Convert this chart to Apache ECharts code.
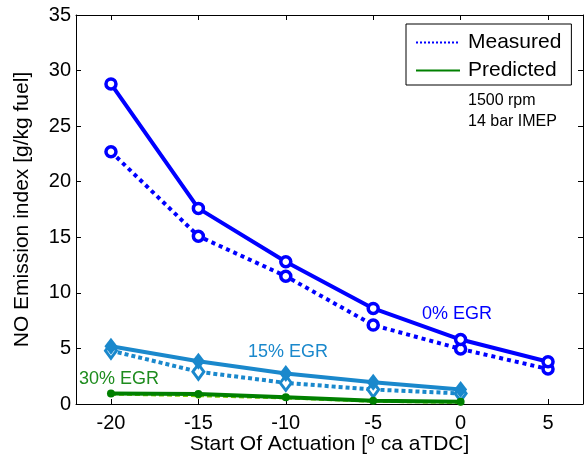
<!DOCTYPE html>
<html>
<head>
<meta charset="utf-8">
<script src="https://cdn.jsdelivr.net/npm/echarts@6/dist/echarts.min.js"></script>
<style>html,body{margin:0;padding:0;background:#fff}#c{width:586px;height:466px}</style>
</head>
<body>
<div id="c"></div>
<script>
var soa = [-20, -15, -10, -5, 0, 5];
var soa15 = [-20, -15, -10, -5, 0];
var xTicks = [-20, -15, -10, -5, 0, 5];
var egr0Measured = [22.7, 15.1, 11.5, 7.1, 4.95, 3.15];
var egr0Predicted = [28.8, 17.6, 12.8, 8.6, 5.8, 3.8];
var egr15Measured = [4.8, 2.9, 1.9, 1.3, 0.95];
var egr15Predicted = [5.2, 3.85, 2.75, 1.95, 1.3];
var egr30Measured = [0.85, 0.7, 0.5, 0.2, 0.1];
var egr30Predicted = [0.95, 0.9, 0.6, 0.3, 0.2];

function pairs(xs, ys) { return xs.map(function (x, i) { return [x, ys[i]]; }); }

var BLUE = '#0000ff', LBLUE = '#1a88cc', GREEN = '#008000', LGREEN = '#7ccc00';
var FONT = 'Liberation Sans';

var chart = echarts.init(document.getElementById('c'), null, {renderer: 'canvas'});
var axisLineStyle = {color: '#000', width: 1};
var option = {
  animation: false,
  backgroundColor: '#fff',
  textStyle: {fontFamily: FONT},
  grid: {left: 76, right: 3, top: 15, bottom: 62, containLabel: false},
  legend: {
    left: 406, top: 24, orient: 'vertical',
    backgroundColor: '#fff', borderColor: '#000', borderWidth: 1,
    padding: [8, 10, 4, 9], itemGap: 7, itemWidth: 44, itemHeight: 14,
    textStyle: {fontFamily: FONT, fontSize: 21, color: '#000', padding: [0, 0, 0, 3]},
    itemStyle: {opacity: 0, borderWidth: 0},
    data: ['Measured', 'Predicted']
  },
  xAxis: [{
    type: 'value', min: -22, max: 7, position: 'bottom',
    name: 'Start Of Actuation [{sup|o} ca aTDC]', nameLocation: 'middle', nameGap: 29,
    nameMoveOverlap: false,
    nameTextStyle: {fontFamily: FONT, fontSize: 21, color: '#000',
      rich: {sup: {fontFamily: FONT, fontSize: 14, color: '#000', verticalAlign: 'top', padding: [0, 0, 8, 0]}}},
    axisLine: {show: true, lineStyle: axisLineStyle, onZero: false},
    axisTick: {show: true, inside: true, length: 5, lineStyle: axisLineStyle, customValues: xTicks},
    axisLabel: {fontFamily: FONT, fontSize: 20, color: '#000', margin: 9, customValues: xTicks},
    splitLine: {show: false}
  }, {
    type: 'value', min: -22, max: 7, position: 'top',
    axisLine: {show: true, lineStyle: axisLineStyle, onZero: false},
    axisTick: {show: true, inside: true, length: 5, lineStyle: axisLineStyle, customValues: xTicks},
    axisLabel: {show: false, customValues: xTicks},
    splitLine: {show: false}
  }],
  yAxis: [{
    type: 'value', min: 0, max: 35, interval: 5, position: 'left',
    name: 'NO Emission index [g/kg fuel]', nameLocation: 'middle', nameGap: 43,
    nameMoveOverlap: false,
    nameTextStyle: {fontFamily: FONT, fontSize: 21, color: '#000'},
    axisLine: {show: true, lineStyle: axisLineStyle, onZero: false},
    axisTick: {show: true, inside: true, length: 5, lineStyle: axisLineStyle},
    axisLabel: {fontFamily: FONT, fontSize: 20, color: '#000', margin: 5, showMaxLabel: true, showMinLabel: true},
    splitLine: {show: false}
  }, {
    type: 'value', min: 0, max: 35, interval: 5, position: 'right',
    axisLine: {show: true, lineStyle: axisLineStyle, onZero: false},
    axisTick: {show: true, inside: true, length: 5, lineStyle: axisLineStyle},
    axisLabel: {show: false},
    splitLine: {show: false}
  }],
  series: [
    {name: 'Measured', type: 'line', data: [], symbol: 'none', lineStyle: {color: BLUE, width: 2, type: [2, 2]}, itemStyle: {color: BLUE}},
    {name: 'Predicted', type: 'line', data: [], symbol: 'none', lineStyle: {color: GREEN, width: 2}, itemStyle: {color: GREEN}},
    {name: '0% EGR measured', type: 'line', data: pairs(soa, egr0Measured), z: 3,
      lineStyle: {color: BLUE, width: 4, type: [4, 4]},
      symbol: 'circle', symbolSize: 10, itemStyle: {color: '#fff', borderColor: BLUE, borderWidth: 3.5}, showAllSymbol: true},
    {name: '0% EGR predicted', type: 'line', data: pairs(soa, egr0Predicted), z: 4,
      lineStyle: {color: BLUE, width: 4},
      symbol: 'circle', symbolSize: 10, itemStyle: {color: '#fff', borderColor: BLUE, borderWidth: 3.5}, showAllSymbol: true},
    {name: '15% EGR measured', type: 'line', data: pairs(soa15, egr15Measured), z: 3,
      lineStyle: {color: LBLUE, width: 4, type: [4, 3]},
      symbol: 'diamond', symbolSize: [11, 15], itemStyle: {color: '#fff', borderColor: LBLUE, borderWidth: 3}},
    {name: '15% EGR predicted', type: 'line', data: pairs(soa15, egr15Predicted), z: 4,
      lineStyle: {color: LBLUE, width: 4},
      symbol: 'diamond', symbolSize: [13, 17], itemStyle: {color: LBLUE}},
    {name: '30% EGR measured', type: 'line', data: pairs(soa15, egr30Measured), z: 3,
      lineStyle: {color: LGREEN, width: 2, type: [5, 3]},
      symbol: 'circle', symbolSize: 5, itemStyle: {color: LGREEN}},
    {name: '30% EGR predicted', type: 'line', data: pairs(soa15, egr30Predicted), z: 4,
      lineStyle: {color: GREEN, width: 4},
      symbol: 'circle', symbolSize: 8, itemStyle: {color: GREEN}}
  ],
  graphic: [
    {type: 'text', left: 468, top: 93, style: {text: '1500 rpm', fontFamily: FONT, fontSize: 16, fill: '#000'}},
    {type: 'text', left: 468, top: 114, style: {text: '14 bar IMEP', fontFamily: FONT, fontSize: 16, fill: '#000'}},
    {type: 'text', left: 422, top: 305, style: {text: '0% EGR', fontFamily: FONT, fontSize: 18, fill: BLUE}},
    {type: 'text', left: 248, top: 343, style: {text: '15% EGR', fontFamily: FONT, fontSize: 18, fill: LBLUE}},
    {type: 'text', left: 79, top: 370, style: {text: '30% EGR', fontFamily: FONT, fontSize: 18, fill: '#1e8c1e'}}
  ]
};
chart.setOption(option);
</script>
</body>
</html>
